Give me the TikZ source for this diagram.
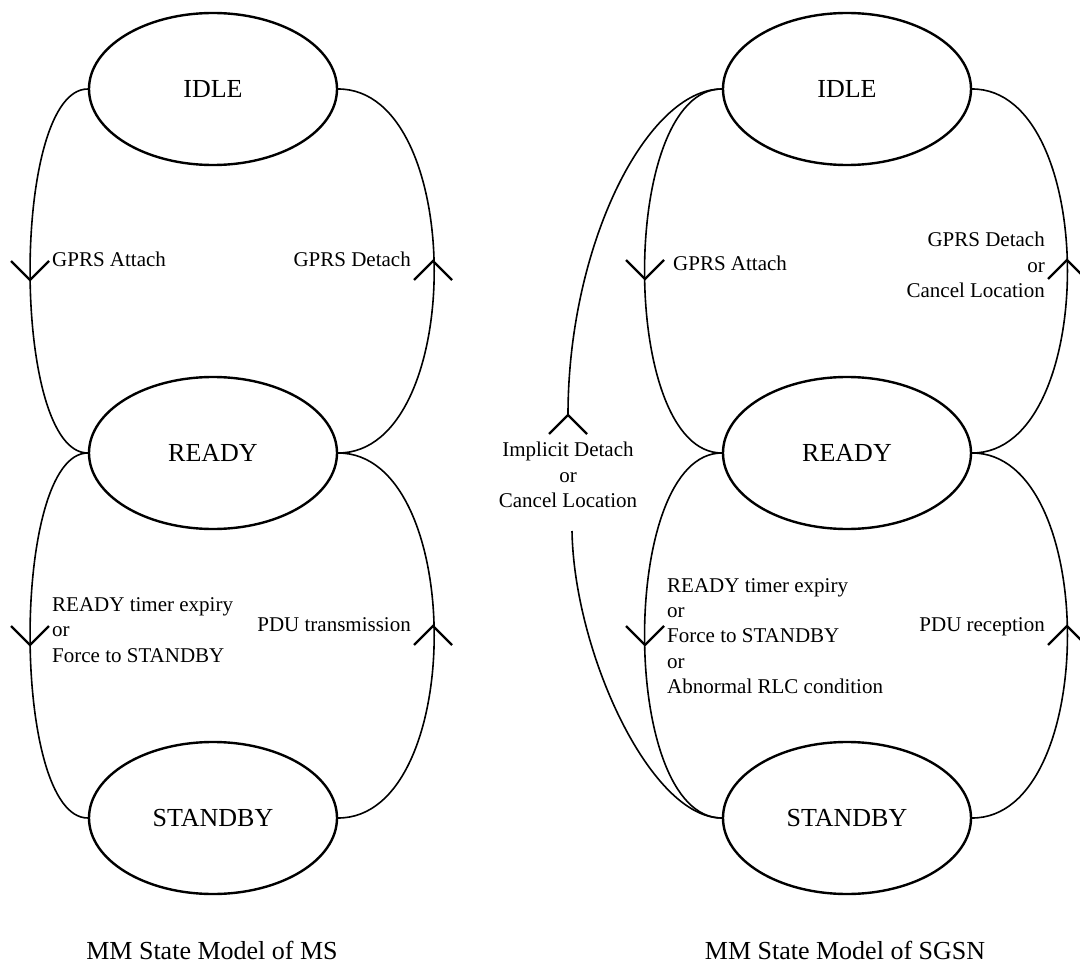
\documentclass[tikz,border=0pt]{standalone}
\usepackage{fontspec}
\setmainfont{Liberation Serif}
\usetikzlibrary{shapes.geometric}
\tikzset{
  pics/vdown/.style={code={\draw[vtip] (-19,-19) -- (0,0) -- (19,-19);}},
  pics/vup/.style={code={\draw[vtip] (-19,19) -- (0,0) -- (19,19);}}
}
\begin{document}
\begin{tikzpicture}[x=1pt,y=-1pt,
  state/.style={draw, line width=2.4pt, ellipse, minimum width=248pt, minimum height=152pt, inner sep=0pt, font=\fontsize{26}{31}\selectfont},
  link/.style={line width=1.6pt},
  vtip/.style={line width=2.2pt},
  lab/.style={font=\fontsize{21}{25.3}\selectfont, inner sep=0pt},
  captext/.style={font=\fontsize{26}{31}\selectfont, inner sep=0pt}]
\path[fill=white, use as bounding box] (0,0) rectangle (1080,963);

% ---------- MS ----------
\node[state] (idle1) at (213,89) {IDLE};
\node[state] (ready1) at (213,453) {READY};
\node[state] (stby1) at (213,818) {STANDBY};

\draw[link] (idle1.west) .. controls +(-77,0) and +(-77,0) .. (ready1.west);
\draw[link] (ready1.east) .. controls +(128,0) and +(128,0) .. (idle1.east);
\draw[link] (ready1.west) .. controls +(-77,0) and +(-77,0) .. (stby1.west);
\draw[link] (stby1.east) .. controls +(128,0) and +(128,0) .. (ready1.east);

\pic at (30,280) {vdown};
\pic at (433,261) {vup};
\pic at (30,645) {vdown};
\pic at (433,626) {vup};

\node[lab, anchor=base west] (ms1) at (52,266) {GPRS Attach};
\node[lab, anchor=base east] (ms2) at (411,266) {GPRS Detach};
\node[lab, anchor=west, align=left] (ms3) at (52,630) {READY timer expiry\\or\\Force to STANDBY};
\node[lab, anchor=base east] (ms4) at (411,631) {PDU transmission};

\node[captext, anchor=base] (cap1) at (212,959) {MM State Model of MS};

% ---------- SGSN ----------
\node[state] (idle2) at (847,89) {IDLE};
\node[state] (ready2) at (847,453) {READY};
\node[state] (stby2) at (847,818) {STANDBY};

\draw[link] (idle2.west) .. controls +(-103,0) and +(-103,0) .. (ready2.west);
\draw[link] (ready2.east) .. controls +(127,0) and +(127,0) .. (idle2.east);
\draw[link] (ready2.west) .. controls +(-103,0) and +(-103,0) .. (stby2.west);
\draw[link] (stby2.east) .. controls +(127,0) and +(127,0) .. (ready2.east);

\coordinate (impTop) at (568,415);
\coordinate (impBot) at (572,531);
\draw[link] (stby2.west) .. controls +(-72,0) and +(2,120) .. (impBot);
\draw[link] (impTop) .. controls +(0,-170) and +(-75,0) .. (idle2.west);

\pic at (645,279) {vdown};
\pic at (1067,260) {vup};
\pic at (645,645) {vdown};
\pic at (1067,626) {vup};
\pic at (568,415) {vup};

\node[lab, anchor=base west] (sg1) at (673,270) {GPRS Attach};
\node[lab, anchor=east, align=right] (sg2) at (1045,265) {GPRS Detach\\or\\Cancel Location};
\node[lab, anchor=center, align=center] (sg3) at (568,475) {Implicit Detach\\or\\Cancel Location};
\node[lab, anchor=west, align=left] (sg4) at (667,636) {READY timer expiry\\or\\Force to STANDBY\\or\\Abnormal RLC condition};
\node[lab, anchor=base east] (sg5) at (1045,631) {PDU reception};

\node[captext, anchor=base] (cap2) at (845,959) {MM State Model of SGSN};
\end{tikzpicture}
\end{document}
